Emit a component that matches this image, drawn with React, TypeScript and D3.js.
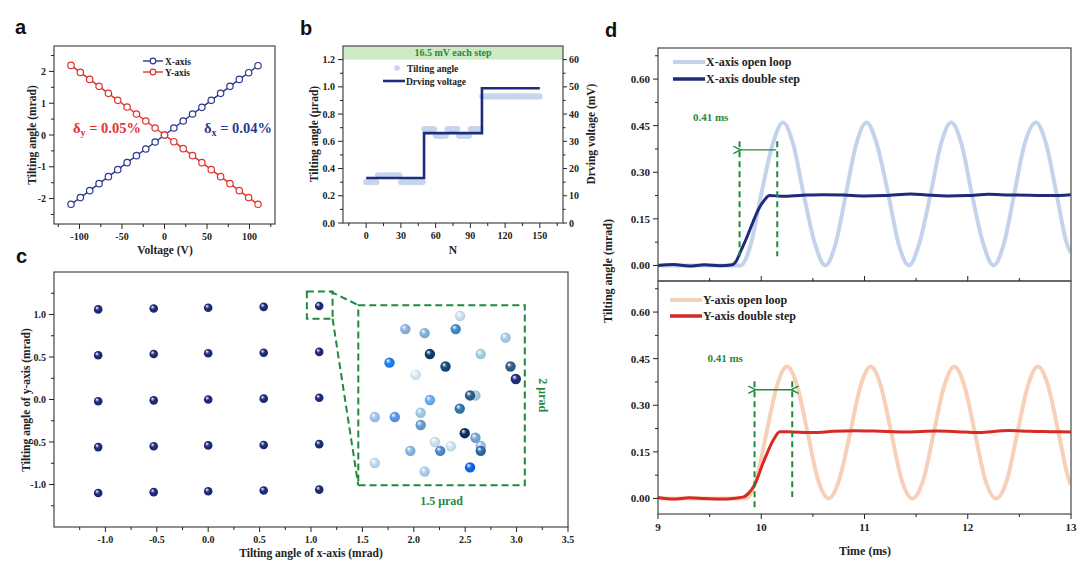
import React from 'react';
import * as d3 from 'd3';

const SERIF = '"Liberation Serif", "Times New Roman", Times, serif';
const SANS = '"Liberation Sans", Arial, Helvetica, sans-serif';
const INK = '#222';
const FRAME = '#555';
const GREEN = '#1f8a3f';

// ---- panel a: tilt vs voltage
const voltage = [-110, -99, -88, -77, -66, -55, -44, -33, -22, -11, 0, 11, 22, 33, 44, 55, 66, 77, 88, 99, 110];
const xAxisTilt = [-2.18, -1.97, -1.75, -1.53, -1.31, -1.09, -0.87, -0.65, -0.44, -0.22, 0, 0.22, 0.44, 0.66, 0.87, 1.09, 1.31, 1.53, 1.75, 1.96, 2.18];
const yAxisTilt = [2.19, 1.97, 1.75, 1.53, 1.31, 1.09, 0.88, 0.66, 0.44, 0.22, 0, -0.21, -0.43, -0.65, -0.87, -1.09, -1.31, -1.53, -1.75, -1.97, -2.18];

// ---- panel b: steps
const tiltBreaks = [0, 10, 30, 50, 60, 70, 80, 90, 100, 151];
const tiltLevels = [0.30, 0.35, 0.30, 0.69, 0.64, 0.69, 0.64, 0.69, 0.93];
const driveN = [0, 50, 100, 150];
const driveMv = [16.5, 33, 49.5, 49.5];

// ---- panel c: 5x5 grid (mrad) + zoomed cloud (µrad)
const gridX = [
  -1.07, -0.53, 0.0, 0.54, 1.08,
  -1.07, -0.53, 0.0, 0.54, 1.08,
  -1.07, -0.53, 0.0, 0.54, 1.08,
  -1.07, -0.53, 0.0, 0.54, 1.08,
  -1.07, -0.53, 0.0, 0.54, 1.08,
];
const gridY = [
  1.06, 1.07, 1.08, 1.09, 1.10,
  0.52, 0.535, 0.545, 0.55, 0.56,
  -0.02, -0.01, 0.0, 0.01, 0.02,
  -0.56, -0.55, -0.54, -0.535, -0.525,
  -1.10, -1.09, -1.08, -1.07, -1.06,
];
const cloudX = [0.917, 0.424, 0.598, 0.878, 1.327, 0.645, 1.103, 0.281, 0.786, 1.371, 1.419, 0.517, 0.645, 1.055, 1.007, 0.914, 0.149, 0.329, 0.562, 0.562, 1.103, 1.055, 0.959, 1.103, 0.690, 0.834, 0.469, 0.738, 0.149, 0.598, 1.007];
const cloudY = [1.880, 1.734, 1.690, 1.734, 1.639, 1.457, 1.457, 1.362, 1.319, 1.319, 1.180, 1.228, 0.947, 0.998, 0.998, 0.852, 0.758, 0.758, 0.805, 0.670, 0.437, 0.528, 0.579, 0.383, 0.481, 0.434, 0.383, 0.383, 0.248, 0.153, 0.200];
const cloudColor = ['#d3e5f3', '#8cb6df', '#86b4e0', '#3b8fcc', '#a9cfea', '#0e3d6f', '#a6d3e9', '#1c82f0', '#134b7d', '#2b6190', '#232c7c', '#ddeef7', '#6cb0f2', '#a9d0e6', '#2a6190', '#2f79ae', '#a9c3f6', '#5a98ea', '#a6cfe9', '#6b9fd1', '#a0c4e2', '#7aaada', '#0d2f5f', '#2e6aa9', '#cfe6ef', '#d3e8f4', '#8ab9e5', '#4d8bd1', '#c3ddf3', '#b1d1f1', '#0f68ea'];

// ---- panel d: time responses
const xOpenT = [9.0, 9.4, 9.7, 9.8, 9.9, 10.0, 10.11, 10.21, 10.31, 10.41, 10.52, 10.62, 10.72, 10.82, 10.92, 11.02, 11.12, 11.23, 11.33, 11.43, 11.53, 11.64, 11.74, 11.84, 11.94, 12.04, 12.15, 12.25, 12.35, 12.45, 12.55, 12.66, 12.76, 12.86, 12.96, 13.0];
const xOpenV = [0, 0, 0, 0, 0.07, 0.23, 0.39, 0.46, 0.39, 0.23, 0.07, 0, 0.07, 0.23, 0.39, 0.46, 0.39, 0.23, 0.07, 0, 0.07, 0.23, 0.39, 0.46, 0.39, 0.23, 0.07, 0, 0.07, 0.23, 0.39, 0.46, 0.39, 0.23, 0.07, 0.04];
const xStepT = [9.0, 9.15, 9.3, 9.45, 9.6, 9.72, 9.76, 9.8, 9.86, 9.92, 9.98, 10.03, 10.08, 10.2, 10.4, 10.6, 10.8, 11.0, 11.2, 11.45, 11.6, 11.8, 12.0, 12.2, 12.4, 12.6, 12.8, 13.0];
const xStepV = [0.0, 0.003, -0.002, 0.002, -0.001, 0.002, 0.015, 0.045, 0.09, 0.14, 0.185, 0.21, 0.225, 0.223, 0.226, 0.228, 0.227, 0.224, 0.225, 0.23, 0.227, 0.224, 0.225, 0.229, 0.227, 0.226, 0.225, 0.228];
const yOpenT = [9.0, 9.45, 9.75, 9.85, 9.95, 10.05, 10.15, 10.25, 10.35, 10.45, 10.55, 10.655, 10.755, 10.86, 10.96, 11.06, 11.16, 11.26, 11.36, 11.465, 11.57, 11.67, 11.77, 11.87, 11.97, 12.07, 12.17, 12.275, 12.38, 12.48, 12.58, 12.68, 12.78, 12.88, 12.98, 13.0];
const yOpenV = [0, 0, 0, 0, 0.06, 0.21, 0.36, 0.425, 0.36, 0.21, 0.06, 0, 0.06, 0.21, 0.36, 0.425, 0.36, 0.21, 0.06, 0, 0.06, 0.21, 0.36, 0.425, 0.36, 0.21, 0.06, 0, 0.06, 0.21, 0.36, 0.425, 0.36, 0.21, 0.06, 0.045];
const yStepT = [9.0, 9.15, 9.3, 9.45, 9.6, 9.75, 9.83, 9.88, 9.93, 10.02, 10.12, 10.18, 10.3, 10.5, 10.7, 10.9, 11.1, 11.4, 11.7, 11.9, 12.1, 12.4, 12.6, 12.8, 13.0];
const yStepV = [0.003, -0.002, 0.002, 0.0, -0.002, 0.001, 0.005, 0.018, 0.04, 0.116, 0.19, 0.215, 0.214, 0.212, 0.216, 0.218, 0.217, 0.214, 0.217, 0.215, 0.212, 0.219, 0.216, 0.215, 0.214];

const hy = (s: string) => s.replace('\u2212', '-');

type AxisProps = {
  scale: (v: number) => number;
  pos: number;
  orient: 'left' | 'right' | 'bottom' | 'up';
  major: number[];
  minor?: number[];
  fmt?: (v: number) => string;
  fs?: number;
  len?: number;
  mlen?: number;
  gap?: number;
  labels?: boolean;
};

function Axis({ scale, pos, orient, major, minor = [], fmt = (v) => String(v), fs = 10.5, len = 5, mlen = 3, gap = 3, labels = true }: AxisProps) {
  const seg = (v: number, l: number) => {
    const p = scale(v);
    if (orient === 'left') return [pos, p, pos - l, p];
    if (orient === 'right') return [pos, p, pos + l, p];
    if (orient === 'bottom') return [p, pos, p, pos + l];
    return [p, pos, p, pos - l];
  };
  return (
    <g>
      {minor.map((v, i) => {
        const [x1, y1, x2, y2] = seg(v, mlen);
        return <line key={'m' + i} x1={x1} y1={y1} x2={x2} y2={y2} stroke={INK} strokeWidth={1} />;
      })}
      {major.map((v, i) => {
        const [x1, y1, x2, y2] = seg(v, len);
        return <line key={'M' + i} x1={x1} y1={y1} x2={x2} y2={y2} stroke={INK} strokeWidth={1} />;
      })}
      {labels && orient !== 'up' && major.map((v, i) => {
        const p = scale(v);
        let x = p, y = pos + len + fs + 1, anchor = 'middle';
        if (orient === 'left') { x = pos - len - gap; y = p + fs * 0.35; anchor = 'end'; }
        if (orient === 'right') { x = pos + len + gap; y = p + fs * 0.35; anchor = 'start'; }
        return (
          <text key={'t' + i} x={x} y={y} textAnchor={anchor} fontFamily={SERIF} fontWeight="bold" fontSize={fs} fill={INK}>
            {fmt(v)}
          </text>
        );
      })}
    </g>
  );
}

function Frame({ x0, x1, y0, y1 }: { x0: number; x1: number; y0: number; y1: number }) {
  return <rect x={x0} y={y0} width={x1 - x0} height={y1 - y0} fill="none" stroke={FRAME} strokeWidth={1.3} />;
}

function sphereGrad(id: string, color: string) {
  const hi = d3.interpolateRgb(color, '#ffffff')(0.6);
  const dark = d3.rgb(color).darker(0.35).formatHex();
  return (
    <radialGradient key={id} id={id} cx="0.5" cy="0.5" r="0.55" fx="0.32" fy="0.28">
      <stop offset="0" stopColor="#ffffff" />
      <stop offset="0.18" stopColor={hi} />
      <stop offset="0.45" stopColor={color} />
      <stop offset="1" stopColor={dark} />
    </radialGradient>
  );
}

const ylabel = (x: number, y: number, text: string, fs = 12) => (
  <text transform={`translate(${x},${y}) rotate(-90)`} textAnchor="middle" fontFamily={SERIF} fontWeight="bold" fontSize={fs} fill={INK}>
    {text}
  </text>
);

const panelLetter = (x: number, y: number, t: string) => (
  <text x={x} y={y} fontFamily={SANS} fontWeight="bold" fontSize={20} fill="#111">{t}</text>
);

export default function App() {
  // ---------- panel a ----------
  const xA = d3.scaleLinear().domain([-130, 130]).range([54, 275]);
  const yA = d3.scaleLinear().domain([-2.8, 2.8]).range([224, 46]);
  const lineA = d3.line<number>().x((_, i) => xA(voltage[i])).y((d) => yA(d));
  const blue = '#2b3990';
  const red = '#e0312f';

  // ---------- panel b ----------
  const xB = d3.scaleLinear().domain([-20, 170]).range([343, 563]);
  const yB = d3.scaleLinear().domain([0, 1.3]).range([223, 46]);
  const yB2 = d3.scaleLinear().domain([0, 65]).range([223, 46]);
  const tiltDots: [number, number][] = [];
  tiltLevels.forEach((lv, i) => {
    for (let n = tiltBreaks[i]; n < tiltBreaks[i + 1]; n++) tiltDots.push([n, lv]);
  });
  const driveLine = d3.line<number>().x((_, i) => xB(driveN[i])).y((d) => yB2(d)).curve(d3.curveStepAfter);

  // ---------- panel c ----------
  const xC = d3.scaleLinear().domain([-1.5, 3.5]).range([54, 568]);
  const yC = d3.scaleLinear().domain([-1.5, 1.5]).range([527, 272]);
  const box = { x0: 1.46, x1: 3.08, y0: -1.01, y1: 1.11 };
  const small = { x0: 0.96, x1: 1.21, y0: 0.95, y1: 1.27 };
  const xIn = d3.scaleLinear().domain([0, 1.5]).range([xC(box.x0), xC(box.x1)]);
  const yIn = d3.scaleLinear().domain([0, 2]).range([yC(box.y0), yC(box.y1)]);

  // ---------- panel d ----------
  const xD = d3.scaleLinear().domain([9, 13]).range([658, 1071]);
  const yDt = d3.scaleLinear().domain([-0.05, 0.7]).range([281, 48]);
  const yDb = d3.scaleLinear().domain([-0.05, 0.7]).range([514, 281]);
  const mk = (ts: number[], ys: d3.ScaleLinear<number, number>) =>
    d3.line<number>().x((_, i) => xD(ts[i])).y((d) => ys(d)).curve(d3.curveMonotoneX);

  const fmt1 = (v: number) => hy(d3.format('.1f')(v));
  const fmt2 = (v: number) => hy(d3.format('.2f')(v));
  const fmt0 = (v: number) => hy(d3.format('d')(v));

  const dMajor = [0, 0.15, 0.3, 0.45, 0.6];
  const dMinor = [0.075, 0.225, 0.375, 0.525, 0.675];

  return (
    <svg width={1080} height={563} viewBox="0 0 1080 563" style={{ position: 'absolute', left: 0, top: 0, background: '#fff' }}>
      <defs>
        {sphereGrad('sph-grid', '#1f2b7c')}
        {cloudColor.map((c, i) => sphereGrad('sph-' + i, c))}
        <clipPath id="clipDt"><rect x={658} y={48} width={413} height={233} /></clipPath>
        <clipPath id="clipDb"><rect x={658} y={281} width={413} height={233} /></clipPath>
        <marker id="arrowG" viewBox="0 0 10 10" refX="1" refY="5" markerWidth="7" markerHeight="7" orient="auto-start-reverse">
          <path d="M9,1 L1,5 L9,9" fill="none" stroke={GREEN} strokeWidth={1.5} />
        </marker>
      </defs>

      {/* ================= panel a ================= */}
      {panelLetter(15, 34, 'a')}
      <Frame x0={54} x1={275} y0={46} y1={224} />
      <Axis scale={yA} pos={54} orient="left" major={[-2, -1, 0, 1, 2]} minor={[-2.5, -1.5, -0.5, 0.5, 1.5, 2.5]} fmt={fmt0} fs={10} />
      <Axis scale={xA} pos={224} orient="bottom" major={[-100, -50, 0, 50, 100]} minor={[-125, -75, -25, 25, 75, 125]} fmt={fmt0} fs={10} />
      <path d={lineA(xAxisTilt) || ''} fill="none" stroke={blue} strokeWidth={1.4} />
      <path d={lineA(yAxisTilt) || ''} fill="none" stroke={red} strokeWidth={1.4} />
      {xAxisTilt.map((v, i) => (
        <circle key={'ax' + i} cx={xA(voltage[i])} cy={yA(v)} r={3.2} fill="#fff" stroke={blue} strokeWidth={1.2} />
      ))}
      {yAxisTilt.map((v, i) => (
        <circle key={'ay' + i} cx={xA(voltage[i])} cy={yA(v)} r={3.2} fill="#fff" stroke={red} strokeWidth={1.2} />
      ))}
      <g fontFamily={SERIF} fontWeight="bold" fontSize={9.5} fill={INK}>
        <line x1={143} x2={163} y1={61} y2={61} stroke={blue} strokeWidth={1.4} />
        <circle cx={153} cy={61} r={2.8} fill="#fff" stroke={blue} strokeWidth={1.2} />
        <text x={165} y={64.5}>X-axis</text>
        <line x1={143} x2={163} y1={72} y2={72} stroke={red} strokeWidth={1.4} />
        <circle cx={153} cy={72} r={2.8} fill="#fff" stroke={red} strokeWidth={1.2} />
        <text x={165} y={75.5}>Y-axis</text>
      </g>
      <text x={73} y={133} fontFamily={SERIF} fontWeight="bold" fontSize={14.5} fill={red}>
        δ<tspan fontSize={10} dy={3}>y</tspan><tspan dy={-3}> = 0.05%</tspan>
      </text>
      <text x={204} y={133} fontFamily={SERIF} fontWeight="bold" fontSize={14.5} fill={blue}>
        δ<tspan fontSize={10} dy={3}>x</tspan><tspan dy={-3}> = 0.04%</tspan>
      </text>
      {ylabel(36, 135, 'Tilting angle (mrad)', 11.5)}
      <text x={165} y={254} textAnchor="middle" fontFamily={SERIF} fontWeight="bold" fontSize={11.5} fill={INK}>Voltage (V)</text>

      {/* ================= panel b ================= */}
      {panelLetter(300, 35, 'b')}
      <rect x={343} y={46} width={220} height={yB(1.2) - 46} fill="#d0e9c5" />
      <text x={453} y={56} textAnchor="middle" fontFamily={SERIF} fontWeight="bold" fontSize={10} fill={GREEN}>16.5 mV each step</text>
      <Frame x0={343} x1={563} y0={46} y1={223} />
      <Axis scale={yB} pos={343} orient="left" major={[0, 0.2, 0.4, 0.6, 0.8, 1.0, 1.2]} minor={[0.1, 0.3, 0.5, 0.7, 0.9, 1.1]} fmt={fmt1} fs={10} />
      <Axis scale={yB2} pos={563} orient="right" major={[0, 10, 20, 30, 40, 50, 60]} minor={[5, 15, 25, 35, 45, 55]} fmt={fmt0} fs={10} len={4} mlen={2.5} gap={2} />
      <Axis scale={xB} pos={223} orient="bottom" major={[0, 30, 60, 90, 120, 150]} minor={[-15, 15, 45, 75, 105, 135, 165]} fmt={fmt0} fs={10} />
      {tiltDots.map(([n, v], i) => (
        <circle key={'td' + i} cx={xB(n)} cy={yB(v)} r={2.8} fill="#c6d4ec" />
      ))}
      <path d={driveLine(driveMv) || ''} fill="none" stroke="#1f2b7c" strokeWidth={2.6} />
      <g fontFamily={SERIF} fontWeight="bold" fontSize={9.5} fill={INK}>
        <circle cx={397} cy={68} r={2.8} fill="#c6d4ec" />
        <text x={407} y={71.5}>Tilting angle</text>
        <line x1={383} x2={405} y1={81} y2={81} stroke="#1f2b7c" strokeWidth={2.6} />
        <text x={406} y={84.5}>Drving voltage</text>
      </g>
      {ylabel(318, 134, 'Tilting angle (μrad)', 11.5)}
      {ylabel(595, 134, 'Drving voltage (mV)', 11.5)}
      <text x={453} y={254} textAnchor="middle" fontFamily={SERIF} fontWeight="bold" fontSize={11.5} fill={INK}>N</text>

      {/* ================= panel c ================= */}
      {panelLetter(16, 263, 'c')}
      <Frame x0={54} x1={568} y0={272} y1={527} />
      <Axis scale={yC} pos={54} orient="left" major={[-1, -0.5, 0, 0.5, 1]} minor={[-1.25, -0.75, -0.25, 0.25, 0.75, 1.25]} fmt={fmt1} fs={10} />
      <Axis scale={xC} pos={527} orient="bottom" major={[-1, -0.5, 0, 0.5, 1, 1.5, 2, 2.5, 3, 3.5]} minor={[-1.25, -0.75, -0.25, 0.25, 0.75, 1.25, 1.75, 2.25, 2.75, 3.25]} fmt={fmt1} fs={10} />
      {gridX.map((x, i) => (
        <circle key={'g' + i} cx={xC(x)} cy={yC(gridY[i])} r={4.3} fill="url(#sph-grid)" />
      ))}
      <g fill="none" stroke={GREEN} strokeWidth={2} strokeDasharray="7,4">
        <rect x={xC(small.x0)} y={yC(small.y1)} width={xC(small.x1) - xC(small.x0)} height={yC(small.y0) - yC(small.y1)} />
        <rect x={xC(box.x0)} y={yC(box.y1)} width={xC(box.x1) - xC(box.x0)} height={yC(box.y0) - yC(box.y1)} />
        <line x1={xC(small.x1) - 2} y1={yC(small.y1)} x2={xC(box.x0)} y2={yC(box.y1)} />
        <line x1={xC(small.x1)} y1={yC(small.y0)} x2={xC(box.x0)} y2={yC(box.y0)} />
      </g>
      {cloudX.map((x, i) => (
        <circle key={'c' + i} cx={xIn(x)} cy={yIn(cloudY[i])} r={5.2} fill={`url(#sph-${i})`} />
      ))}
      <text x={xIn(0.75)} y={yC(box.y0) + 20} textAnchor="middle" fontFamily={SERIF} fontWeight="bold" fontSize={12} fill={GREEN}>1.5 μrad</text>
      <text transform={`translate(${xC(box.x1) + 14},${yIn(1)}) rotate(90)`} textAnchor="middle" fontFamily={SERIF} fontWeight="bold" fontSize={12} fill={GREEN}>2 μrad</text>
      {ylabel(30, 400, 'Tilting angle of y-axis (mrad)', 11.5)}
      <text x={311} y={557} textAnchor="middle" fontFamily={SERIF} fontWeight="bold" fontSize={11.5} fill={INK}>Tilting angle of x-axis (mrad)</text>

      {/* ================= panel d ================= */}
      {panelLetter(605, 37, 'd')}
      <g clipPath="url(#clipDt)">
        <path d={mk(xOpenT, yDt)(xOpenV) || ''} fill="none" stroke="#c3d3ec" strokeWidth={4} strokeLinejoin="round" />
        <path d={mk(xStepT, yDt)(xStepV) || ''} fill="none" stroke="#1f2a7c" strokeWidth={3} strokeLinejoin="round" />
      </g>
      <g clipPath="url(#clipDb)">
        <path d={mk(yOpenT, yDb)(yOpenV) || ''} fill="none" stroke="#f7d0b8" strokeWidth={4} strokeLinejoin="round" />
        <path d={mk(yStepT, yDb)(yStepV) || ''} fill="none" stroke="#d72a24" strokeWidth={3} strokeLinejoin="round" />
      </g>
      <Frame x0={658} x1={1071} y0={48} y1={281} />
      <Frame x0={658} x1={1071} y0={281} y1={514} />
      <Axis scale={yDt} pos={658} orient="left" major={dMajor} minor={dMinor} fmt={fmt2} fs={11} />
      <Axis scale={yDb} pos={658} orient="left" major={dMajor} minor={dMinor} fmt={fmt2} fs={11} />
      <Axis scale={xD} pos={281} orient="up" major={[10, 11, 12]} minor={[9.5, 10.5, 11.5, 12.5]} labels={false} />
      <Axis scale={xD} pos={514} orient="bottom" major={[9, 10, 11, 12, 13]} minor={[9.5, 10.5, 11.5, 12.5]} fmt={fmt0} fs={11} />

      {/* annotations */}
      <g stroke={GREEN} strokeWidth={2} strokeDasharray="6,4" fill="none">
        <line x1={xD(9.79)} x2={xD(9.79)} y1={yDt(0.4)} y2={yDt(0.03)} />
        <line x1={xD(10.155)} x2={xD(10.155)} y1={yDt(0.4)} y2={yDt(0.03)} />
        <line x1={xD(9.935)} x2={xD(9.935)} y1={yDb(0.377)} y2={yDb(-0.03)} />
        <line x1={xD(10.3)} x2={xD(10.3)} y1={yDb(0.377)} y2={yDb(0.005)} />
      </g>
      <line x1={xD(9.8)} x2={xD(10.145)} y1={yDt(0.372)} y2={yDt(0.372)} stroke={GREEN} strokeWidth={1.3} markerStart="url(#arrowG)" />
      <line x1={xD(9.945)} x2={xD(10.29)} y1={yDb(0.35)} y2={yDb(0.35)} stroke={GREEN} strokeWidth={1.3} markerStart="url(#arrowG)" markerEnd="url(#arrowG)" />
      <text x={xD(9.51)} y={yDt(0.465)} textAnchor="middle" fontFamily={SERIF} fontWeight="bold" fontSize={11} fill={GREEN}>0.41 ms</text>
      <text x={xD(9.65)} y={yDb(0.44)} textAnchor="middle" fontFamily={SERIF} fontWeight="bold" fontSize={11} fill={GREEN}>0.41 ms</text>

      <g fontFamily={SERIF} fontWeight="bold" fontSize={12} fill={INK}>
        <line x1={673} x2={705} y1={62} y2={62} stroke="#c3d3ec" strokeWidth={4} />
        <text x={706} y={66}>X-axis open loop</text>
        <line x1={673} x2={705} y1={79} y2={79} stroke="#1f2a7c" strokeWidth={3.5} />
        <text x={706} y={83}>X-axis double step</text>
        <line x1={670} x2={702} y1={300} y2={300} stroke="#f7d0b8" strokeWidth={4} />
        <text x={703} y={304}>Y-axis open loop</text>
        <line x1={670} x2={702} y1={316} y2={316} stroke="#d72a24" strokeWidth={3.5} />
        <text x={703} y={320}>Y-axis double step</text>
      </g>
      {ylabel(612, 271, 'Tilting angle (mrad)', 12)}
      <text x={865} y={555} textAnchor="middle" fontFamily={SERIF} fontWeight="bold" fontSize={12} fill={INK}>Time (ms)</text>
    </svg>
  );
}
